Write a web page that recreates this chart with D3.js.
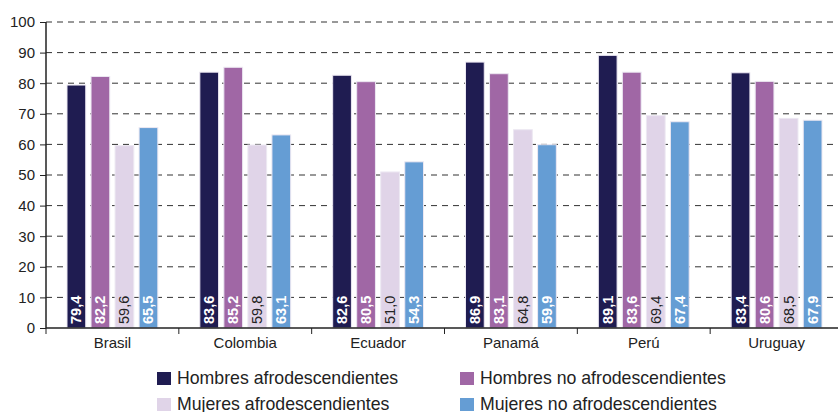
<!DOCTYPE html>
<html>
<head>
<meta charset="utf-8">
<script src="https://cdn.jsdelivr.net/npm/d3@7"></script>
<style>
body { margin: 0; background: #fff; }
svg { font-family: "Liberation Sans", Arial, sans-serif; }
</style>
</head>
<body>
<div id="chart"></div>
<script>
//data
var countries = ["Brasil", "Colombia", "Ecuador", "Panamá", "Perú", "Uruguay"];
var seriesNames = ["Hombres afrodescendientes", "Hombres no afrodescendientes", "Mujeres afrodescendientes", "Mujeres no afrodescendientes"];
var hombresAfro = [79.4, 83.6, 82.6, 86.9, 89.1, 83.4];
var hombresNoAfro = [82.2, 85.2, 80.5, 83.1, 83.6, 80.6];
var mujeresAfro = [59.6, 59.8, 51.0, 64.8, 69.4, 68.5];
var mujeresNoAfro = [65.5, 63.1, 54.3, 59.9, 67.4, 67.9];
var yTicks = [0, 10, 20, 30, 40, 50, 60, 70, 80, 90, 100];

var colours = ["#1f1c51", "#a067a5", "#e0d4e8", "#659dd4"];
var labelColours = ["#fff", "#fff", "#222", "#fff"];
var allSeries = [hombresAfro, hombresNoAfro, mujeresAfro, mujeresNoAfro];

var width = 838, height = 412;

var svg = d3.select("#chart").append("svg")
	.attr("width", width)
	.attr("height", height);

var x = d3.scaleBand()
	.domain(countries)
	.range([46, 843])
	.paddingInner(0)
	.paddingOuter(0);

var inner = d3.scaleBand()
	.domain(d3.range(4))
	.range([21, x.bandwidth() - 21])
	.paddingInner(0.22)
	.paddingOuter(0);

var y = d3.scaleLinear()
	.domain([0, 100])
	.range([328, 22]);

//grid lines
svg.append("g")
	.selectAll("line")
	.data(yTicks.slice(1))
	.enter()
	.append("line")
		.attr("x1", 46)
		.attr("x2", width)
		.attr("y1", function(d) { return y(d); })
		.attr("y2", function(d) { return y(d); })
		.attr("stroke", "#333")
		.attr("stroke-width", 1)
		.attr("stroke-dasharray", "6,5");

//bars
var groups = svg.append("g")
	.selectAll("g")
	.data(countries)
	.enter()
	.append("g")
		.attr("transform", function(d) { return "translate(" + x(d) + ",0)"; });

groups.each(function(c, ci) {
	var g = d3.select(this);
	allSeries.forEach(function(s, si) {
		g.append("rect")
			.attr("x", inner(si))
			.attr("y", y(s[ci]))
			.attr("width", inner.bandwidth())
			.attr("height", y(0) - y(s[ci]))
			.attr("fill", colours[si])
			.attr("stroke", "#ece8f2")
			.attr("stroke-width", 1);
		var cx = inner(si) + inner.bandwidth() / 2 + 5;
		g.append("text")
			.attr("transform", "translate(" + cx + "," + (y(0) - 4) + ") rotate(-90)")
			.attr("fill", labelColours[si])
			.style("font-size", "14.5px")
			.style("font-weight", si == 2 ? "normal" : "bold")
			.text(d3.format(".1f")(s[ci]).replace(".", ","));
	});
});

//y axis
var yAxis = svg.append("g")
	.attr("transform", "translate(46,0)")
	.call(d3.axisLeft(y).tickValues(yTicks).tickSize(6).tickPadding(5));
yAxis.select(".domain").attr("stroke", "#222").attr("stroke-width", 1.5).attr("d", "M0," + y(0) + "V" + y(100));
yAxis.selectAll(".tick line").attr("stroke", "#222");
yAxis.selectAll(".tick text")
	.style("font-size", "15px")
	.style("font-family", "Liberation Sans, Arial, sans-serif")
	.attr("fill", "#222");

//x axis
var xAxis = svg.append("g")
	.attr("transform", "translate(0," + y(0) + ")");
xAxis.append("line")
	.attr("x1", 46)
	.attr("x2", width)
	.attr("stroke", "#222")
	.attr("stroke-width", 1.5);
xAxis.selectAll(".sep")
	.data(countries)
	.enter()
	.append("line")
		.attr("class", "sep")
		.attr("x1", function(d) { return x(d); })
		.attr("x2", function(d) { return x(d); })
		.attr("y1", 0)
		.attr("y2", 6)
		.attr("stroke", "#222");
xAxis.selectAll(".cat")
	.data(countries)
	.enter()
	.append("text")
		.attr("class", "cat")
		.attr("x", function(d) { return x(d) + x.bandwidth() / 2; })
		.attr("y", 20)
		.attr("text-anchor", "middle")
		.style("font-size", "15px")
		.attr("fill", "#222")
		.text(function(d) { return d; });

//legend
var legendPos = [[157, 372], [460, 372], [157, 398], [460, 398]];
var legend = svg.append("g")
	.selectAll("g")
	.data(seriesNames)
	.enter()
	.append("g")
		.attr("transform", function(d, i) { return "translate(" + legendPos[i][0] + "," + legendPos[i][1] + ")"; });
legend.append("rect")
	.attr("x", 0)
	.attr("y", 0)
	.attr("width", 14)
	.attr("height", 13)
	.attr("fill", function(d, i) { return colours[i]; });
legend.append("text")
	.attr("x", 20)
	.attr("y", 12)
	.style("font-size", "17.7px")
	.attr("fill", "#222")
	.text(function(d) { return d; });
</script>
</body>
</html>
